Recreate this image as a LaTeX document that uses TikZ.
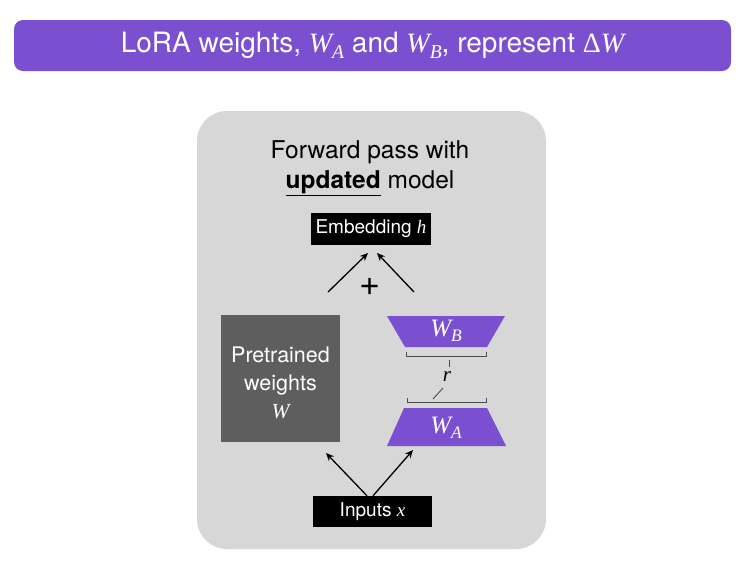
\documentclass[tikz,border=0pt]{standalone}
\usepackage{fontspec}
\setmainfont{TeX Gyre Heros}
\newfontfamily\serifit{Liberation Serif}[UprightFont=*-Italic]
\newfontfamily\serifup{Liberation Serif}
\newcommand\mv[1]{{\serifit #1}}
\newcommand\msub[2]{{\serifit #1}\raisebox{-0.4ex}{\serifit\fontsize{0.7em}{1em}\selectfont #2}}
\usetikzlibrary{arrows.meta}
\definecolor{lorapurple}{HTML}{7A4FD0}
\definecolor{panelgray}{HTML}{D7D7D7}
\definecolor{pregray}{HTML}{5E5E5E}
\tikzset{
  blackbox/.style={fill=black, text=white, inner sep=0pt, font=\fontsize{19}{22}\selectfont},
  arr/.style={-{Stealth[length=8pt,width=7pt]}, line width=1.3pt},
  trap/.style={fill=lorapurple, draw=none},
  brk/.style={line width=0.9pt, draw=black!70}
}
\begin{document}
\begin{tikzpicture}[x=1pt,y=-1pt]
\useasboundingbox (0,0) rectangle (746,576);
\fill[white] (0,0) rectangle (746,576);
% title
\node[fill=lorapurple, rounded corners=9pt, minimum width=717pt, minimum height=51pt, inner sep=0pt, text=white, font=\fontsize{28}{32}\selectfont] (title) at (372.5,45.5) {LoRA weights, \msub{W}{A} and \msub{W}{B}, represent {\serifup Δ}\mv{W}};
% panel
\node[fill=panelgray, rounded corners=30pt, minimum width=349pt, minimum height=438pt, inner sep=0pt] (panel) at (371.5,330) {};
\node[font=\fontsize{24.5}{30}\selectfont, align=center] (cap) at (370,168) {Forward pass with\\\underline{\textbf{updated}} model};
% embedding
\node[blackbox, minimum width=120pt, minimum height=32pt] (emb) at (371,229) {Embedding \mv{h}};
% pretrained
\node[fill=pregray, minimum width=119pt, minimum height=127pt, inner sep=0pt] (pre) at (280.5,378.5) {};
\node[text=white, inner sep=0pt, align=center, font=\fontsize{21.5}{28}\selectfont] (pretext) at (280.5,383) {Pretrained\\weights\\\mv{W}};
% W_B trapezoid
\coordinate (b1) at (387,316); \coordinate (b2) at (505,316);
\coordinate (b3) at (487,347); \coordinate (b4) at (405,347);
\fill[trap] (b1) -- (b2) -- (b3) -- (b4) -- cycle;
\node[text=white, font=\fontsize{25}{28}\selectfont] (wb) at (446,331) {\msub{W}{B}};
% W_A trapezoid
\coordinate (a1) at (404,408); \coordinate (a2) at (487,408);
\coordinate (a3) at (506,446); \coordinate (a4) at (387,446);
\fill[trap] (a1) -- (a2) -- (a3) -- (a4) -- cycle;
\node[text=white, font=\fontsize{25}{28}\selectfont] (wa) at (446,428) {\msub{W}{A}};
% brackets
\draw[brk] (406,352) -- (406,356) -- (486,356) -- (486,352);
\coordinate (btop) at (449,356);
\draw[brk] (407,398) -- (407,402) -- (486,402) -- (486,398);
\coordinate (bbot) at (432,402);
\node[font=\fontsize{21}{24}\selectfont] (r) at (447,377) {\mv{r}};
\draw[brk] (btop) ++(0,4) -- ++(0,7);
\draw[brk] (bbot) ++(1,-3) -- ++(10,-11);
% inputs
\node[blackbox, minimum width=119pt, minimum height=31pt] (inp) at (372.5,511.5) {Inputs \mv{x}};
% arrows
\coordinate (pl) at (328,292); \coordinate (pr) at (414,292);
\draw[arr] (pl) -- (368,253);
\draw[arr] (pr) -- (377,253);
\node[font=\fontsize{36}{36}\selectfont] (plus) at (370,287) {+};
\draw[arr] (inp.north -| 367,0) -- (326,453);
\draw[arr] (inp.north -| 373,0) -- (413,450);
\end{tikzpicture}
\end{document}
